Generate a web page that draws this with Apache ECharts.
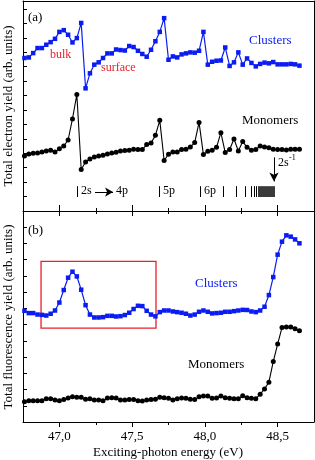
<!DOCTYPE html>
<html><head><meta charset="utf-8">
<script src="https://cdn.jsdelivr.net/npm/echarts@6/dist/echarts.min.js"></script>
<style>html,body{margin:0;padding:0;background:#fff}#c{width:315px;height:460px}</style>
</head><body><div id="c"></div>
<script>
// Photon energy grid (eV)
const energy = [46.76,46.79,46.82,46.85,46.88,46.91,46.94,46.97,47.00,47.03,47.06,47.09,47.12,47.15,47.18,47.21,47.24,47.27,47.30,47.33,47.36,47.39,47.42,47.45,47.48,47.51,47.54,47.57,47.60,47.63,47.66,47.69,47.72,47.75,47.78,47.81,47.84,47.87,47.90,47.93,47.96,47.99,48.02,48.05,48.08,48.11,48.14,48.17,48.20,48.23,48.26,48.29,48.32,48.35,48.38,48.41,48.44,48.47,48.50,48.53,48.56,48.59,48.62,48.65];
// (a) Total electron yield
const electronClusters = [10.60,10.64,10.94,11.29,11.29,11.52,11.70,11.93,12.41,12.53,12.21,11.68,11.98,13.03,8.50,9.54,10.14,10.30,10.60,10.92,10.92,11.19,11.15,11.12,11.43,11.36,11.10,10.88,10.69,11.17,11.76,12.41,13.36,10.48,10.71,10.64,10.85,10.92,10.99,10.97,11.10,12.41,10.14,10.34,10.41,10.43,11.33,10.05,10.30,10.99,10.14,10.57,10.26,10.02,10.19,10.28,10.23,10.32,10.16,10.16,10.16,10.19,10.16,10.07];
const electronMonomers = [3.81,3.95,4.00,4.02,4.09,4.16,4.21,4.09,4.32,4.50,4.92,6.38,8.07,2.88,3.40,3.61,3.74,3.81,3.86,3.95,4.02,4.07,4.16,4.19,4.21,4.28,4.26,4.26,4.60,4.71,5.24,6.28,3.50,3.93,4.09,4.09,4.26,4.28,4.43,4.74,6.14,3.91,4.14,4.21,4.41,5.43,4.05,4.26,4.99,4.16,4.81,4.41,4.21,4.26,4.50,4.43,4.39,4.28,4.26,4.26,4.23,4.28,4.28,4.28];
// (b) Total fluorescence yield
const fluorClusters = [6.85,6.71,6.71,6.62,6.60,6.56,6.67,6.87,7.36,8.13,8.89,9.26,8.97,8.15,7.20,6.62,6.44,6.44,6.46,6.54,6.54,6.50,6.52,6.59,6.73,6.96,7.16,7.14,6.85,6.62,6.51,6.77,6.87,6.87,6.81,6.77,6.73,6.67,6.56,6.62,6.79,6.87,6.79,6.69,6.71,6.73,6.79,6.79,6.83,6.87,6.91,6.90,6.81,6.77,6.87,7.10,7.82,8.93,10.31,11.11,11.50,11.42,11.25,11.01];
const fluorMonomers = [1.25,1.31,1.31,1.31,1.31,1.44,1.44,1.36,1.31,1.38,1.48,1.56,1.52,1.52,1.40,1.44,1.36,1.36,1.31,1.48,1.50,1.48,1.36,1.36,1.38,1.38,1.31,1.30,1.36,1.38,1.40,1.52,1.50,1.46,1.36,1.44,1.48,1.46,1.40,1.38,1.56,1.60,1.60,1.46,1.48,1.60,1.50,1.46,1.44,1.44,1.62,1.50,1.46,1.44,1.71,2.04,2.45,3.72,4.80,5.82,5.86,5.86,5.74,5.62];
// axis ticks
const majorTicks = [47.0, 47.5, 48.0, 48.5];
const minorTicks = [47.25, 47.75, 48.25];
// Rydberg series markers (eV)
const rydbergLines = [47.121, 47.685, 47.966, 48.125, 48.214, 48.276, 48.317, 48.338, 48.351];
const rydbergBlock = [48.365, 48.482];
const limit2s = 48.475;
// highlighted region in (b)
const boxX = [46.874, 47.664];
const boxY = [5.78, 9.9];

const FONT = '"Liberation Serif","Times New Roman",serif';
const BLUE = '#0a1cf2', RED = '#e8202a', BLACK = '#000';
const chart = echarts.init(document.getElementById('c'), null, {renderer: 'canvas'});
const pts = arr => energy.map((e, i) => [e, arr[i]]);
const X0 = 46.75, X1 = 48.75;

function xAx(grid, pos, opt) {
  return Object.assign({
    type: 'value', gridIndex: grid, position: pos, min: X0, max: X1, offset: 0,
    axisLine: {show: false, onZero: false, lineStyle: {color: BLACK, width: 1}},
    axisTick: {show: false}, axisLabel: {show: false}, splitLine: {show: false}
  }, opt);
}
const line = {show: true, onZero: false, lineStyle: {color: BLACK, width: 1}};
const option = {
  animation: false,
  grid: [
    {left: 23, top: 1, width: 291, height: 210},
    {left: 23, top: 211, width: 291, height: 211}
  ],
  xAxis: [
    xAx(0, 'bottom', {axisLine: line, axisTick: {show: true, inside: true, length: 6, customValues: majorTicks, lineStyle: {color: BLACK}}}),
    xAx(0, 'bottom', {axisTick: {show: true, inside: true, length: 3, customValues: minorTicks, lineStyle: {color: BLACK}}}),
    xAx(0, 'top', {axisLine: line}),
    xAx(1, 'top', {axisTick: {show: true, inside: true, length: 5, customValues: majorTicks, lineStyle: {color: BLACK}}}),
    xAx(1, 'top', {axisTick: {show: true, inside: true, length: 3, customValues: minorTicks, lineStyle: {color: BLACK}}}),
    xAx(1, 'bottom', {axisLine: line,
      axisTick: {show: true, inside: false, length: 5, customValues: majorTicks, lineStyle: {color: BLACK}},
      axisLabel: {show: true, customValues: majorTicks, margin: 8, color: BLACK, fontFamily: FONT, fontSize: 13,
        formatter: v => v.toFixed(1).replace('.', ',')}}),
    xAx(1, 'bottom', {axisTick: {show: true, inside: false, length: 3, customValues: minorTicks, lineStyle: {color: BLACK}}})
  ],
  yAxis: [
    {type: 'value', gridIndex: 0, position: 'left', min: 0, max: 14.55, interval: 1,
      axisLine: line, axisTick: {show: true, inside: true, length: 4, lineStyle: {color: BLACK}},
      axisLabel: {show: false}, splitLine: {show: false}},
    {type: 'value', gridIndex: 0, position: 'right', min: 0, max: 14.55,
      axisLine: line, axisTick: {show: false}, axisLabel: {show: false}, splitLine: {show: false}},
    {type: 'value', gridIndex: 1, position: 'left', min: 0, max: 13, interval: 1,
      axisLine: line, axisTick: {show: true, inside: true, length: 4, lineStyle: {color: BLACK}},
      axisLabel: {show: false}, splitLine: {show: false}},
    {type: 'value', gridIndex: 1, position: 'right', min: 0, max: 13,
      axisLine: line, axisTick: {show: false}, axisLabel: {show: false}, splitLine: {show: false}}
  ],
  series: [
    {type: 'line', xAxisIndex: 0, yAxisIndex: 0, data: pts(electronClusters),
      symbol: 'rect', symbolSize: 4.5, lineStyle: {color: BLUE, width: 1.2}, itemStyle: {color: BLUE}},
    {type: 'line', xAxisIndex: 0, yAxisIndex: 0, data: pts(electronMonomers),
      symbol: 'circle', symbolSize: 5, lineStyle: {color: BLACK, width: 1.1}, itemStyle: {color: BLACK},
      markLine: {silent: true, symbol: ['none', 'none'], label: {show: false},
        lineStyle: {color: BLACK, width: 1, type: 'solid'},
        data: rydbergLines.map(e => [{coord: [e, 0.97]}, {coord: [e, 1.72]}]).concat([
          [{coord: [limit2s, 3.72], symbol: 'none'}, {coord: [limit2s, 2.05], symbol: 'arrow', symbolSize: [7, 9]}],
          [{coord: [47.245, 1.31], symbol: 'none'}, {coord: [47.369, 1.31], symbol: 'arrow', symbolSize: [7, 8]}]
        ])},
      markArea: {silent: true, itemStyle: {color: '#3a3a3a'},
        data: [[{coord: [rydbergBlock[0], 0.97]}, {coord: [rydbergBlock[1], 1.72]}]]}},
    {type: 'line', xAxisIndex: 3, yAxisIndex: 2, data: pts(fluorClusters),
      symbol: 'rect', symbolSize: 4.5, lineStyle: {color: BLUE, width: 1.2}, itemStyle: {color: BLUE},
      markArea: {silent: true, itemStyle: {color: 'rgba(0,0,0,0)', borderColor: RED, borderWidth: 1.3},
        data: [[{coord: [boxX[0], boxY[1]]}, {coord: [boxX[1], boxY[0]]}]]}},
    {type: 'line', xAxisIndex: 3, yAxisIndex: 2, data: pts(fluorMonomers),
      symbol: 'circle', symbolSize: 5, lineStyle: {color: BLACK, width: 1.1}, itemStyle: {color: BLACK}}
  ],
  graphic: [
    {type: 'text', left: 28, top: 11, style: {text: '(a)', font: '13px ' + FONT, fill: BLACK}},
    {type: 'text', left: 28, top: 224, style: {text: '(b)', font: '13px ' + FONT, fill: BLACK}},
    {type: 'text', left: 50, top: 49, style: {text: 'bulk', font: '12px ' + FONT, fill: RED}},
    {type: 'text', left: 101, top: 62, style: {text: 'surface', font: '12px ' + FONT, fill: RED}},
    {type: 'text', left: 249, top: 34, style: {text: 'Clusters', font: '13px ' + FONT, fill: BLUE}},
    {type: 'text', left: 242, top: 114, style: {text: 'Monomers', font: '13px ' + FONT, fill: BLACK}},
    {type: 'text', left: 195, top: 277, style: {text: 'Clusters', font: '13px ' + FONT, fill: BLUE}},
    {type: 'text', left: 188, top: 358, style: {text: 'Monomers', font: '13px ' + FONT, fill: BLACK}},
    {type: 'text', left: 81, top: 185, style: {text: '2s', font: '12px ' + FONT, fill: BLACK}},
    {type: 'text', left: 116, top: 185, style: {text: '4p', font: '12px ' + FONT, fill: BLACK}},
    {type: 'text', left: 163, top: 185, style: {text: '5p', font: '12px ' + FONT, fill: BLACK}},
    {type: 'text', left: 204, top: 185, style: {text: '6p', font: '12px ' + FONT, fill: BLACK}},
    {type: 'text', left: 278, top: 157, style: {text: '2s', font: '12px ' + FONT, fill: BLACK}},
    {type: 'text', left: 289, top: 154, style: {text: '-1', font: '8px ' + FONT, fill: BLACK}},
    {type: 'text', x: 9, y: 106, rotation: Math.PI / 2,
      style: {text: 'Total electron yield (arb. units)', font: '13px ' + FONT, fill: BLACK, align: 'center', verticalAlign: 'middle'}},
    {type: 'text', x: 9, y: 317, rotation: Math.PI / 2,
      style: {text: 'Total fluorescence yield (arb. units)', font: '13px ' + FONT, fill: BLACK, align: 'center', verticalAlign: 'middle'}},
    {type: 'text', x: 168, y: 453,
      style: {text: 'Exciting-photon energy (eV)', font: '13px ' + FONT, fill: BLACK, align: 'center', verticalAlign: 'middle'}}
  ]
};
chart.setOption(option);
</script></body></html>
